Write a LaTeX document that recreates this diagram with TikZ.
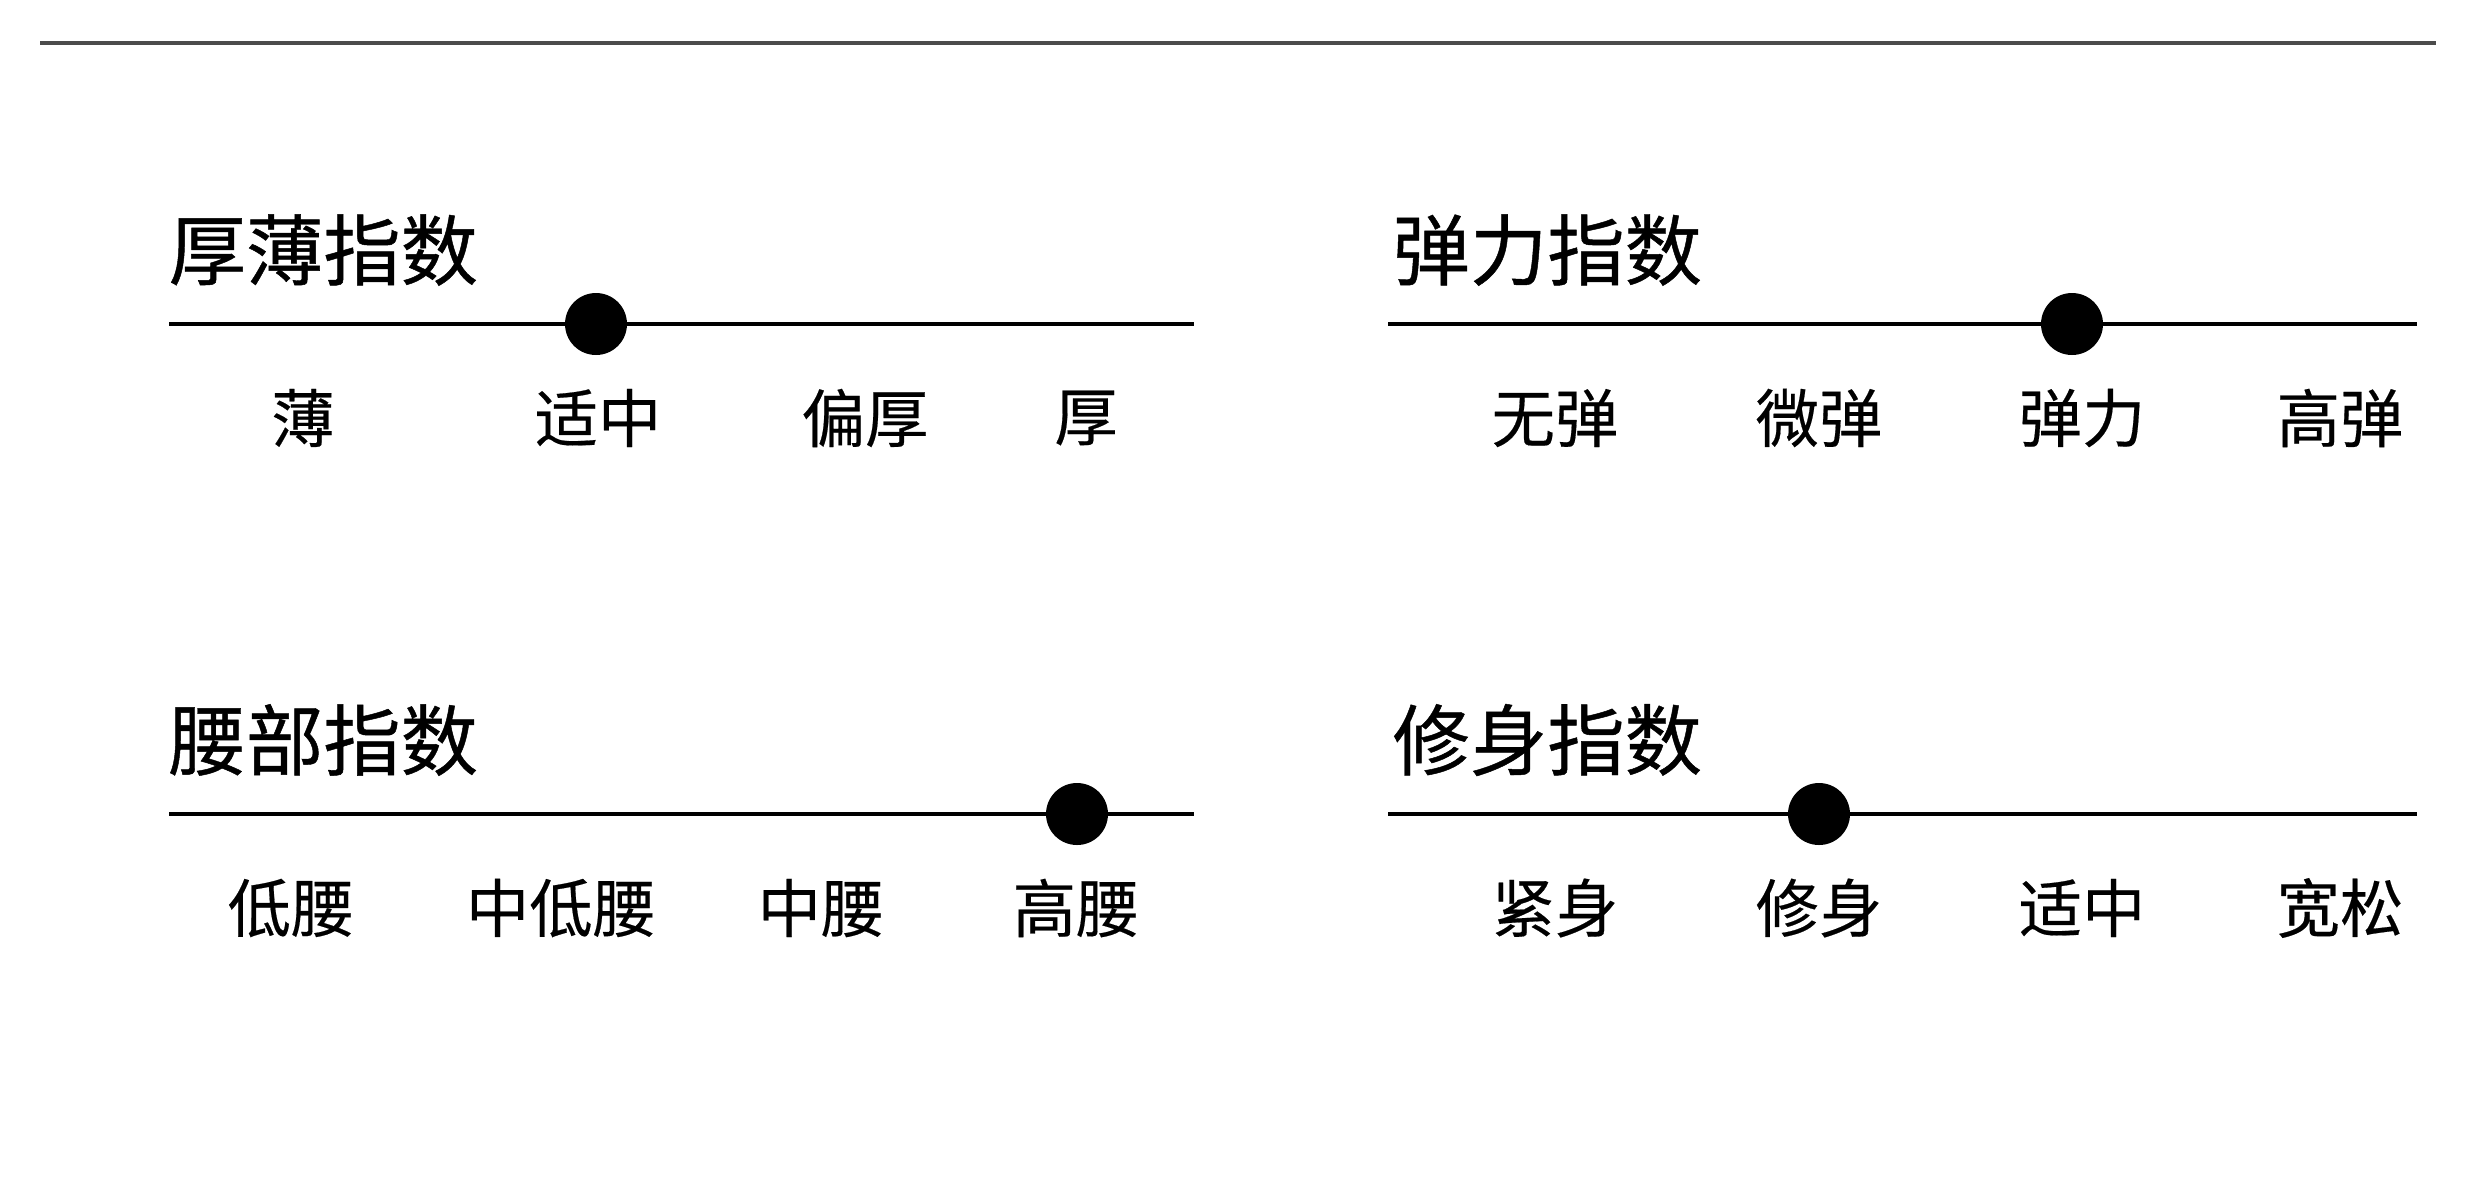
\documentclass[tikz,border=0pt]{standalone}
\usepackage{fontspec}
\newfontfamily\cjk[FakeBold=0.3]{Noto Sans CJK SC}
\newfontfamily\cjkb[FakeBold=0.6]{Noto Sans CJK SC}
\begin{document}
\begin{tikzpicture}[x=0.3pt,y={(0pt,-0.3pt)},
  titletext/.style={anchor=west,inner sep=0pt,font=\cjkb\fontsize{23.2pt}{28pt}\selectfont},
  lbl/.style={inner sep=0pt,font=\cjk\fontsize{19pt}{23pt}\selectfont},
  scaleline/.style={line width=1.35pt,black},
  knob/.style={circle,fill=black,inner sep=0pt,minimum size=18.6pt},
  rule/.style={line width=1.2pt,black!70}]
\useasboundingbox (0,0) rectangle (2480,1192);
% top rule
\coordinate (ra) at (40,43);
\coordinate (rb) at (2436,43);
\draw[rule] (ra) -- (rb);

% panel 1
\node[titletext] (t1) at (168,250) {厚薄指数};
\coordinate (a1) at (169,324);
\coordinate (b1) at (1194,324);
\draw[scaleline] (a1) -- (b1);
\node[knob] (k1) at (596,324) {};
\node[lbl] (p1a) at (303,418) {薄};
\node[lbl] (p1b) at (598,418) {适中};
\node[lbl] (p1c) at (865,418) {偏厚};
\node[lbl] (p1d) at (1086,418) {厚};

% panel 2
\node[titletext] (t2) at (1392,250) {弹力指数};
\coordinate (a2) at (1388,324);
\coordinate (b2) at (2417,324);
\draw[scaleline] (a2) -- (b2);
\node[knob] (k2) at (2072,324) {};
\node[lbl] (p2a) at (1555,418) {无弹};
\node[lbl] (p2b) at (1819,418) {微弹};
\node[lbl] (p2c) at (2082,418) {弹力};
\node[lbl] (p2d) at (2340,418) {高弹};

% panel 3
\node[titletext] (t3) at (168,740) {腰部指数};
\coordinate (a3) at (169,814);
\coordinate (b3) at (1194,814);
\draw[scaleline] (a3) -- (b3);
\node[knob] (k3) at (1077,814) {};
\node[lbl] (p3a) at (291,908) {低腰};
\node[lbl] (p3b) at (561,908) {中低腰};
\node[lbl] (p3c) at (821,908) {中腰};
\node[lbl] (p3d) at (1076,908) {高腰};

% panel 4
\node[titletext] (t4) at (1392,740) {修身指数};
\coordinate (a4) at (1388,814);
\coordinate (b4) at (2417,814);
\draw[scaleline] (a4) -- (b4);
\node[knob] (k4) at (1819,814) {};
\node[lbl] (p4a) at (1555,908) {紧身};
\node[lbl] (p4b) at (1819,908) {修身};
\node[lbl] (p4c) at (2082,908) {适中};
\node[lbl] (p4d) at (2340,908) {宽松};
\end{tikzpicture}
\end{document}
